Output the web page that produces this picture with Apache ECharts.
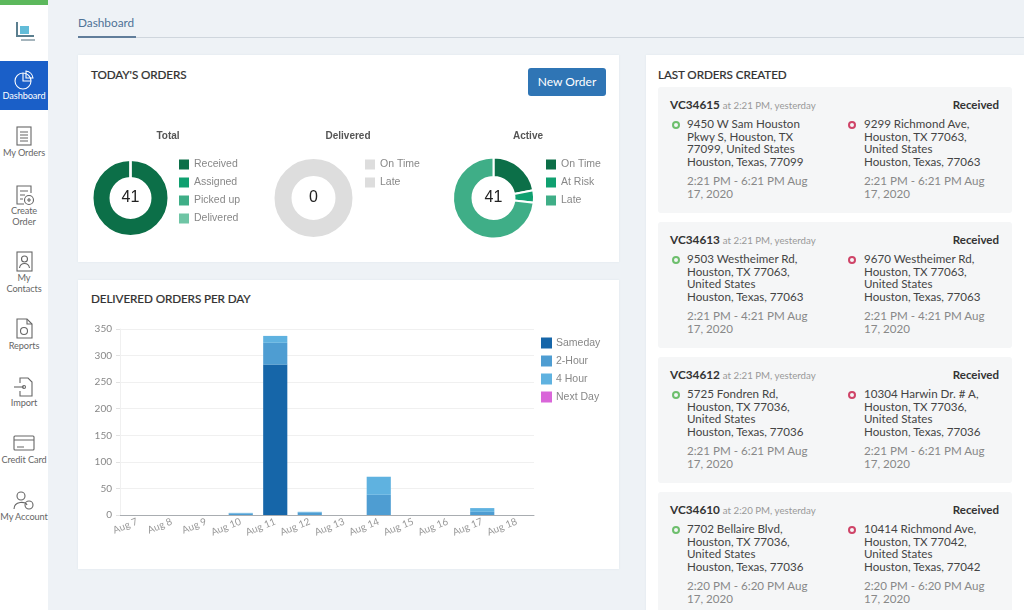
<!DOCTYPE html>
<html>
<head>
<meta charset="utf-8">
<title>Dashboard</title>
<script src="https://cdn.jsdelivr.net/npm/echarts@6/dist/echarts.min.js"></script>
<style>
html, body { margin: 0; padding: 0; width: 1024px; height: 610px; overflow: hidden; background: #eef2f6; font-family: Lato, sans-serif; }
.abs { position: absolute; }
.panel { position: absolute; background: #fff; box-shadow: 0 0 2px #dfe6ec; }
.heading { position: absolute; font-size: 11.7px; font-weight: 500; color: #333; letter-spacing: -0.1px; line-height: 14px; white-space: nowrap; -webkit-text-stroke: 0.15px #333; }
.nav { position: absolute; left: 0; width: 48px; text-align: center; font-size: 9.2px; line-height: 10.5px; color: #666; white-space: nowrap; letter-spacing: -0.1px; }
.nav svg { position: absolute; left: 12px; width: 24px; height: 24px; fill: none; stroke: #666; stroke-width: 1.1; }
.order { position: absolute; left: 658px; width: 354px; height: 126px; background: #f5f6f7; border-radius: 3px; font-size: 11.6px; line-height: 12.6px; color: #444; }
.order div { position: absolute; white-space: nowrap; }
.dot { width: 4px; height: 4px; border-radius: 50%; border: 2px solid; }
</style>
</head>
<body>
<div class="abs" style="left:0;top:0;width:48px;height:610px;background:#fff"></div>
<div class="abs" style="left:0;top:0;width:48px;height:5px;background:#5cb85c"></div>
<svg class="abs" style="left:13px;top:20px" width="24" height="24">
  <path d="M4 2 V16 H21" fill="none" stroke="#5b7f8f" stroke-width="2"/>
  <rect x="7" y="6" width="9" height="8" fill="#62bcd8"/>
  <path d="M8 20 H22" stroke="#4a6a7a" stroke-width="1"/>
</svg>
<div class="abs" style="left:0;top:61px;width:48px;height:49px;background:#1a5fc8"></div>

<div id="navList"></div>

<div class="abs" style="left:78px;top:15px;font-size:11.8px;line-height:15px;color:#4f7397">Dashboard</div>
<div class="abs" style="left:78px;top:37px;width:946px;height:1px;background:#cfd6dd"></div>
<div class="abs" style="left:78px;top:36px;width:58px;height:2px;background:#607d9a"></div>

<div class="panel" style="left:78px;top:55px;width:541px;height:207px"></div>
<div class="panel" style="left:78px;top:280px;width:541px;height:289px"></div>
<div class="panel" style="left:646px;top:55px;width:378px;height:560px"></div>

<div class="heading" style="left:91px;top:67px">TODAY'S ORDERS</div>
<div class="heading" style="left:91px;top:291px">DELIVERED ORDERS PER DAY</div>
<div class="heading" style="left:658px;top:67px">LAST ORDERS CREATED</div>
<div class="abs" style="left:528px;top:68px;width:78px;height:28px;background:#2f75b5;border-radius:3px;color:#fff;font-size:12px;line-height:28px;text-align:center">New Order</div>

<div id="chartTotal" class="abs" style="left:78px;top:125px;width:180px;height:120px"></div>
<div id="chartDelivered" class="abs" style="left:258px;top:125px;width:180px;height:120px"></div>
<div id="chartActive" class="abs" style="left:438px;top:125px;width:181px;height:120px"></div>
<div id="chartBars" class="abs" style="left:78px;top:310px;width:541px;height:250px"></div>

<div id="orderList"></div>

<script>
// donut values
var totalNames = ['Received', 'Assigned', 'Picked up', 'Delivered'];
var totalValues = [41, 0, 0, 0];
var totalColors = ['#0c6f48', '#10a070', '#3fae87', '#6fc5a5'];

var deliveredNames = ['On Time', 'Late'];
var deliveredValues = [0, 0];
var deliveredEmpty = 1; // grey ring when nothing delivered
var deliveredColors = ['#dddddd', '#dddddd'];

var activeNames = ['On Time', 'At Risk', 'Late'];
var activeValues = [9, 2, 30];
var activeColors = ['#0c6f48', '#10a070', '#3fae87'];

// bar values
var days = ['Aug 7', 'Aug 8', 'Aug 9', 'Aug 10', 'Aug 11', 'Aug 12', 'Aug 13', 'Aug 14', 'Aug 15', 'Aug 16', 'Aug 17', 'Aug 18'];
var sameday = [0, 0, 0, 0, 283, 0, 0, 0, 0, 0, 0, 0];
var twoHour = [0, 0, 0, 3, 41, 5, 0, 38, 0, 0, 6, 0];
var fourHour = [0, 0, 0, 1, 13, 1, 0, 34, 0, 0, 7, 0];
var nextDay = [0, 0, 0, 0, 0, 0, 0, 0, 0, 0, 0, 0];

// orders panel
var orderIds = ['VC34615', 'VC34613', 'VC34612', 'VC34610'];
var orderTimes = ['2:21 PM', '2:21 PM', '2:21 PM', '2:20 PM'];
var orderTops = [87, 222, 357, 492];
var pickups = [
    ['9450 W Sam Houston', 'Pkwy S, Houston, TX', '77099, United States', 'Houston, Texas, 77099'],
    ['9503 Westheimer Rd,', 'Houston, TX 77063,', 'United States', 'Houston, Texas, 77063'],
    ['5725 Fondren Rd,', 'Houston, TX 77036,', 'United States', 'Houston, Texas, 77036'],
    ['7702 Bellaire Blvd,', 'Houston, TX 77036,', 'United States', 'Houston, Texas, 77036']
];
var dropoffs = [
    ['9299 Richmond Ave,', 'Houston, TX 77063,', 'United States', 'Houston, Texas, 77063'],
    ['9670 Westheimer Rd,', 'Houston, TX 77063,', 'United States', 'Houston, Texas, 77063'],
    ['10304 Harwin Dr. # A,', 'Houston, TX 77036,', 'United States', 'Houston, Texas, 77036'],
    ['10414 Richmond Ave,', 'Houston, TX 77042,', 'United States', 'Houston, Texas, 77042']
];
var windows = ['2:21 PM - 6:21 PM Aug', '2:21 PM - 4:21 PM Aug', '2:21 PM - 6:21 PM Aug', '2:20 PM - 6:20 PM Aug'];

// sidebar entries
var navItems = [
    {label: ['Dashboard'], icon: 68, text: 91, color: '#fff',
     svg: '<circle cx="11" cy="13" r="8"/><path d="M11 5 V13 H19"/><path d="M14 3 a8 8 0 0 1 7 7 h-7z"/>'},
    {label: ['My Orders'], icon: 125, text: 148,
     svg: '<rect x="5" y="2" width="14" height="18"/><path d="M8 7 H16 M8 10 H16 M8 13 H16 M8 16 H16"/>'},
    {label: ['Create', 'Order'], icon: 183, text: 206,
     svg: '<path d="M19 10 V3 H5 V21 H12"/><path d="M8 8 H16 M8 12 H13 M8 16 H11"/><circle cx="17" cy="17" r="4.5"/><path d="M17 15 V19 M15 17 H19"/>'},
    {label: ['My', 'Contacts'], icon: 250, text: 273,
     svg: '<rect x="5" y="2" width="15" height="19"/><circle cx="12.5" cy="9" r="3"/><path d="M7.5 18 c1-6 9-6 10 0"/>'},
    {label: ['Reports'], icon: 317, text: 341,
     svg: '<path d="M5 2 H15 L20 7 V21 H5z"/><path d="M15 2 V7 H20"/><circle cx="12" cy="14" r="3.5"/>'},
    {label: ['Import'], icon: 375, text: 398,
     svg: '<path d="M8 8 V3 H16 L20 7 V21 H8 V16"/><path d="M2 12 H12"/><circle cx="12" cy="12" r="1.5"/>'},
    {label: ['Credit Card'], icon: 431, text: 455,
     svg: '<rect x="2" y="5" width="20" height="14" rx="1"/><path d="M2 9 H22 M5 16 H12"/>'},
    {label: ['My Account'], icon: 489, text: 512,
     svg: '<circle cx="9" cy="7" r="4"/><path d="M2 20 c0-8 12-8 13-4"/><circle cx="17" cy="16" r="4"/>'}
];

var navHtml = '';
navItems.forEach(function (item) {
    navHtml += '<div class="nav" style="top:0"><svg viewBox="0 0 24 24" style="top:' + item.icon + 'px;' + (item.color ? 'stroke:#fff' : '') + '">' + item.svg + '</svg></div>';
    navHtml += '<div class="nav" style="top:' + item.text + 'px;color:' + (item.color || '#666') + '">' + item.label.join('<br>') + '</div>';
});
document.getElementById('navList').innerHTML = navHtml;

var orderHtml = '';
orderIds.forEach(function (id, i) {
    orderHtml += '<div class="order" style="top:' + orderTops[i] + 'px">' +
        '<div style="left:12px;top:12px;font-weight:bold;font-size:11.8px;color:#333">' + id +
        ' <span style="font-weight:normal;font-size:9.7px;color:#999">at ' + orderTimes[i] + ', yesterday</span></div>' +
        '<div style="right:13px;top:12px;font-weight:bold;font-size:11.5px;color:#333">Received</div>' +
        '<div class="dot" style="left:14px;top:34px;border-color:#6dbf6d"></div>' +
        '<div class="dot" style="left:190px;top:34px;border-color:#cf4468"></div>' +
        '<div style="left:29px;top:31px">' + pickups[i].join('<br>') + '</div>' +
        '<div style="left:206px;top:31px">' + dropoffs[i].join('<br>') + '</div>' +
        '<div style="left:29px;top:88px;color:#888">' + windows[i] + '<br>17, 2020</div>' +
        '<div style="left:206px;top:88px;color:#888">' + windows[i] + '<br>17, 2020</div>' +
        '</div>';
});
document.getElementById('orderList').innerHTML = orderHtml;

function donutOption(title, names, values, colors, centerText, cx, radius, legendLeft, emptyValue) {
    var data = names.map(function (n, i) {
        return {name: n, value: values[i], itemStyle: {color: colors[i]}};
    });
    if (emptyValue) {
        data.push({name: 'empty', value: emptyValue, itemStyle: {color: '#dddddd'}});
    }
    return {
        animation: false,
        title: [
            {text: title, left: 90, top: 6, padding: 0, textAlign: 'center',
             textStyle: {fontFamily: 'Liberation Sans', fontSize: 10, fontWeight: 'bold', color: '#555'}},
            {text: centerText, left: cx, top: 65, padding: 0, textAlign: 'center',
             textStyle: {fontFamily: 'Liberation Sans', fontSize: 16, fontWeight: 'normal', color: '#222'}}
        ],
        legend: {
            orient: 'vertical', left: legendLeft, top: 34, padding: 0,
            itemWidth: 10, itemHeight: 10, itemGap: 7, icon: 'rect',
            itemStyle: {borderWidth: 0},
            data: names,
            selectedMode: false,
            textStyle: {fontFamily: 'Liberation Sans', fontSize: 10.5, color: '#888'}
        },
        series: [{
            type: 'pie',
            silent: true,
            center: [cx, 73],
            radius: radius,
            startAngle: 90,
            label: {show: false},
            labelLine: {show: false},
            itemStyle: {borderColor: '#fff', borderWidth: 2},
            data: data
        }]
    };
}

echarts.init(document.getElementById('chartTotal')).setOption(
    donutOption('Total', totalNames, totalValues, totalColors, String(totalValues[0]), 52.5, [20, 38], 101));
echarts.init(document.getElementById('chartDelivered')).setOption(
    donutOption('Delivered', deliveredNames, deliveredValues, deliveredColors, '0', 55.5, [21, 40], 107, deliveredEmpty));
echarts.init(document.getElementById('chartActive')).setOption(
    donutOption('Active', activeNames, activeValues, activeColors, '41', 55.5, [21, 40.5], 108));

function barSeries(name, values, color) {
    return {name: name, type: 'bar', stack: 'orders', barWidth: '70%', itemStyle: {color: color}, data: values};
}

echarts.init(document.getElementById('chartBars')).setOption({
    animation: false,
    grid: {left: 42, right: 85, top: 19, bottom: 45},
    legend: {
        orient: 'vertical', left: 463, top: 27.5, padding: 0,
        itemWidth: 11, itemHeight: 11, itemGap: 7, icon: 'rect', selectedMode: false,
        data: ['Sameday', '2-Hour', '4 Hour', 'Next Day'],
        textStyle: {fontFamily: 'Liberation Sans', fontSize: 10.5, color: '#888', padding: [0, 0, 0, -1]}
    },
    xAxis: {
        type: 'category',
        data: days,
        axisLine: {lineStyle: {color: '#a9adb1'}},
        axisTick: {show: false},
        axisLabel: {rotate: 22, interval: 0, margin: 6, fontFamily: 'Lato', fontSize: 10, color: '#999'}
    },
    yAxis: {
        type: 'value', min: 0, max: 350, interval: 50,
        axisLine: {show: true, lineStyle: {color: '#f0f0f0'}},
        axisTick: {show: true, length: 4, lineStyle: {color: '#e2e2e2'}},
        splitLine: {lineStyle: {color: '#f0f0f0'}},
        axisLabel: {margin: 8, fontFamily: 'Lato', fontSize: 10, color: '#888'}
    },
    series: [
        barSeries('Sameday', sameday, '#1666a9'),
        barSeries('2-Hour', twoHour, '#4e9dd2'),
        barSeries('4 Hour', fourHour, '#5fb2e0'),
        barSeries('Next Day', nextDay, '#d966d9')
    ]
});
</script>
</body>
</html>
